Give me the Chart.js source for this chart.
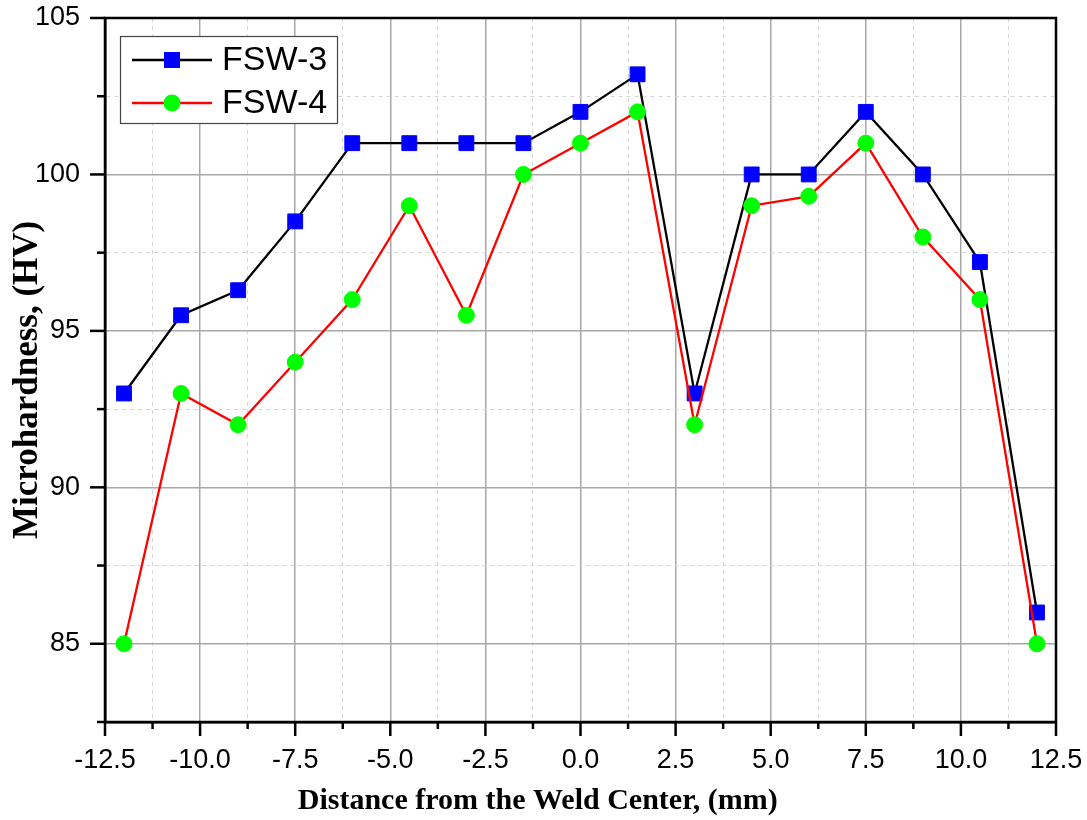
<!DOCTYPE html>
<html>
<head>
<meta charset="utf-8">
<script src="https://cdn.jsdelivr.net/npm/chart.js@4.4.0/dist/chart.umd.min.js"></script>
<style>
html,body{margin:0;padding:0;background:#fff;}
#wrap{width:1087px;height:820px;position:relative;background:#fff;}
</style>
</head>
<body>
<div id="wrap"><canvas id="c"></canvas></div>
<script>
// ---- data ----
const distances = [-12, -10.5, -9, -7.5, -6, -4.5, -3, -1.5, 0, 1.5, 3, 4.5, 6, 7.5, 9, 10.5, 12];
const fsw3 = [93, 95.5, 96.3, 98.5, 101, 101, 101, 101, 102, 103.2, 93, 100, 100, 102, 100, 97.2, 86];
const fsw4 = [85, 93, 92, 94, 96, 99, 95.5, 100, 101, 102, 92, 99, 99.3, 101, 98, 96, 85];
const seriesLabels = ['FSW-3', 'FSW-4'];
const xRange = [-12.5, 12.5];
const yRange = [82.5, 105];
const xMajorStep = 2.5, xMinorStep = 1.25;
const yMajorStep = 5, yMinorStep = 2.5;
const xTitle = 'Distance from the Weld Center, (mm)';
const yTitle = 'Microhardness, (HV)';

const toPts = (xs, ys) => xs.map((x, i) => ({x: x, y: ys[i]}));
const isMult = (v, s) => Math.abs(v / s - Math.round(v / s)) < 1e-6;

const SANS = "'Liberation Sans', Arial, sans-serif";
const SERIF = "'Liberation Serif', 'Times New Roman', serif";

const decor = {
  id: 'decor',
  beforeDatasetsDraw(chart) {
    const {ctx, chartArea: a} = chart;
    ctx.save();
    ctx.strokeStyle = '#000';
    ctx.lineWidth = 2.5;
    ctx.strokeRect(a.left, a.top, a.right - a.left, a.bottom - a.top);
    ctx.restore();
  },
  afterDraw(chart) {
    const {ctx, chartArea: a} = chart;
    ctx.save();
    ctx.strokeStyle = '#000';
    ctx.lineWidth = 2.5;
    // tick marks (major long, minor short)
    const xs = chart.scales.x;
    xs.ticks.forEach((t, i) => {
      const p = xs.getPixelForTick(i);
      const len = isMult(t.value, xMajorStep) ? 14 : 7;
      ctx.beginPath(); ctx.moveTo(p, a.bottom); ctx.lineTo(p, a.bottom + len); ctx.stroke();
    });
    const ys = chart.scales.y;
    ys.ticks.forEach((t, i) => {
      const p = ys.getPixelForTick(i);
      const len = isMult(t.value, yMajorStep) ? 15 : 8;
      ctx.beginPath(); ctx.moveTo(a.left - len, p); ctx.lineTo(a.left, p); ctx.stroke();
    });
    // axis titles
    ctx.fillStyle = '#000';
    ctx.textAlign = 'center';
    ctx.textBaseline = 'middle';
    ctx.font = 'bold 30px ' + SERIF;
    ctx.fillText(xTitle, a.left + (a.right - a.left) * 0.455, 801);
    ctx.save();
    ctx.translate(28, a.top + (a.bottom - a.top) * 0.514);
    ctx.rotate(-Math.PI / 2);
    ctx.font = 'bold 35px ' + SERIF;
    ctx.fillText(yTitle, 0, 0);
    ctx.restore();
    // legend
    const lx = a.left + 15, ly = a.top + 18, lw = 217, lh = 87;
    ctx.fillStyle = '#fff';
    ctx.fillRect(lx, ly, lw, lh);
    ctx.strokeStyle = '#444';
    ctx.lineWidth = 1.2;
    ctx.strokeRect(lx + 0.5, ly + 0.5, lw, lh);
    chart.data.datasets.forEach((ds, i) => {
      const cy = ly + 24 + i * 43;
      ctx.strokeStyle = ds.borderColor;
      ctx.lineWidth = ds.borderWidth;
      ctx.beginPath(); ctx.moveTo(lx + 12, cy); ctx.lineTo(lx + 92, cy); ctx.stroke();
      ctx.fillStyle = ds.pointBackgroundColor;
      const mx = lx + 52;
      if (ds.pointStyle === 'rect') {
        ctx.fillRect(mx - 8, cy - 8, 16, 16);
      } else {
        ctx.beginPath(); ctx.arc(mx, cy, 8.5, 0, Math.PI * 2); ctx.fill();
      }
      ctx.fillStyle = '#000';
      ctx.font = '34px ' + SANS;
      ctx.textBaseline = 'middle';
      ctx.textAlign = 'left';
      ctx.fillText(ds.label, lx + 102, cy + 1);
    });
    ctx.restore();
  }
};

new Chart(document.getElementById('c'), {
  type: 'line',
  data: {
    datasets: [
      {
        label: seriesLabels[0],
        data: toPts(distances, fsw3),
        borderColor: '#000000',
        borderWidth: 2.3,
        pointStyle: 'rect',
        pointRadius: 10.5,
        pointBackgroundColor: '#0000ff',
        pointBorderColor: '#0000ff',
        pointBorderWidth: 1,
        tension: 0,
        order: 1
      },
      {
        label: seriesLabels[1],
        data: toPts(distances, fsw4),
        borderColor: '#ff0000',
        borderWidth: 2.3,
        pointStyle: 'circle',
        pointRadius: 8,
        pointBackgroundColor: '#00ff00',
        pointBorderColor: '#00ff00',
        pointBorderWidth: 1,
        tension: 0,
        order: 0
      }
    ]
  },
  options: {
    responsive: true,
    maintainAspectRatio: false,
    animation: false,
    events: [],
    layout: {padding: {top: 18, right: 31, left: 0, bottom: 0}},
    plugins: {legend: {display: false}, tooltip: {enabled: false}},
    scales: {
      x: {
        type: 'linear',
        min: xRange[0], max: xRange[1],
        afterFit(s) { s.height = 98; s.paddingLeft = 0; s.paddingRight = 0; s.paddingTop = 0; s.paddingBottom = 0; },
        ticks: {
          stepSize: xMinorStep,
          maxTicksLimit: 100,
          autoSkip: false,
          maxRotation: 0,
          padding: 22,
          color: '#000',
          font: {family: SANS, size: 27},
          callback: (v) => isMult(v, xMajorStep) ? v.toFixed(1) : ''
        },
        grid: {
          drawTicks: false,
          color: (c) => (c.tick && isMult(c.tick.value, xMajorStep)) ? '#a8a8a8' : '#d6d6d6',
          lineWidth: (c) => (c.tick && isMult(c.tick.value, xMajorStep)) ? 1.5 : 1
        },
        border: {
          display: true, color: '#000', width: 2.5,
          dash: (c) => (c.tick && !isMult(c.tick.value, xMajorStep)) ? [4, 4] : []
        },
        title: {display: false, text: xTitle}
      },
      y: {
        type: 'linear',
        min: yRange[0], max: yRange[1],
        afterFit(s) { s.width = 105; s.paddingLeft = 0; s.paddingRight = 0; s.paddingTop = 0; s.paddingBottom = 0; },
        ticks: {
          stepSize: yMinorStep,
          maxTicksLimit: 100,
          autoSkip: false,
          padding: 25,
          color: '#000',
          font: {family: SANS, size: 27},
          callback: (v) => isMult(v, yMajorStep) ? String(v) : ''
        },
        grid: {
          drawTicks: false,
          color: (c) => (c.tick && isMult(c.tick.value, yMajorStep)) ? '#a8a8a8' : '#d6d6d6',
          lineWidth: (c) => (c.tick && isMult(c.tick.value, yMajorStep)) ? 1.5 : 1
        },
        border: {
          display: true, color: '#000', width: 2.5,
          dash: (c) => (c.tick && !isMult(c.tick.value, yMajorStep)) ? [4, 4] : []
        },
        title: {display: false, text: yTitle}
      }
    }
  },
  plugins: [decor]
});
</script>
</body>
</html>
